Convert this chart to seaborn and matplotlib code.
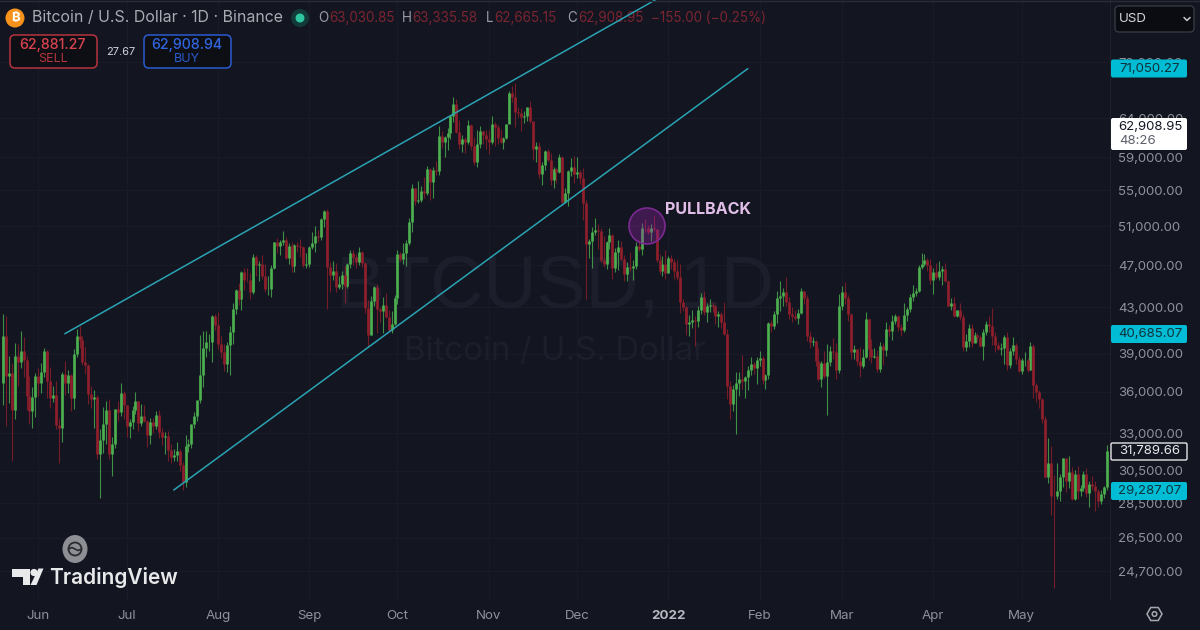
import numpy as np
import pandas as pd
import seaborn as sns
import matplotlib
matplotlib.use("Agg")
import matplotlib.pyplot as plt
import matplotlib.dates as mdates
from matplotlib.patches import FancyBboxPatch, Circle, Polygon, Ellipse, RegularPolygon
from matplotlib.transforms import Affine2D

# ---- data: (close, high, low) per day; first open given
first_open = 36690
may21 = [(40526,42451,35000),(37252,42200,33488),(37449,38829,35200),(34655,38270,31111),(38796,39920,34031),(38324,39791,36419),(39241,40900,37837),(38529,40411,37134),(35663,38856,34684),(34605,37234,33632),(35641,36400,33379),(37253,37499,34153)]
jun21 = [(36693,37894,35666),(37568,38225,35920),(39246,39476,37170),(36829,39289,35555),(35513,37925,34800),(35796,36480,35258),(33552,36800,33300),(33380,34068,31000),(37389,37534,32396),(36675,38400,35782),(37331,37680,35936),(35546,37400,34600),(39020,39380,34757),(40516,41064,38730),(40144,41330,39506),(38349,40527,38116),(38092,39559,37365),(35820,38200,35129),(35483,36457,34833),(35600,36137,33336),(31608,35750,31251),(32509,33298,28805),(33678,34881,31683),(34663,35298,32286),(31594,35500,31275),(32283,32730,30151),(34700,34749,32000),(34494,35297,33862),(35911,36675,34231),(35045,36100,34017)]
jul21 = [(33504,35036,32711),(33786,33977,32699),(34669,34945,33316),(35287,35967,34357),(33690,35293,33125),(34220,35118,33532),(33862,35056,33770),(32875,33929,32077),(33815,34100,32261),(33502,34100,33004),(34259,34600,33333),(33086,34678,32666),(32729,33340,32200),(32820,33114,31600),(31880,33185,31133),(31383,32249,31020),(31520,31949,31100),(31778,32435,31100),(30839,31899,30500),(29790,31063,29278),(32144,32858,29482),(32287,32591,31708),(33634,33650,32000),(34258,34500,33401),(35381,35398,33851),(37276,40550,35205),(39473,40900,36383),(40015,40925,38772),(40016,40640,39200),(42207,42316,38313),(41461,42448,41000)]
aug21 = [(39845,42599,39422),(39147,40480,38690),(38207,39780,37642),(39723,39969,37508),(40862,41350,37332),(42836,43392,39853),(44614,44700,42450),(43800,45310,43261),(46285,46454,42779),(45594,46700,44589),(45555,46743,45341),(44428,46218,43770),(47834,48144,44217),(47024,48000,45971),(47102,47372,45500),(45973,48053,45660),(44695,47160,44376),(44715,45970,44169),(46760,47033,43927),(49327,49382,46622),(48905,49757,48263),(49321,49500,48000),(49546,50500,49029),(47706,49875,47600),(48960,49284,47136),(46942,49355,46300),(49058,49178,46364),(48902,49310,48300),(48806,49632,47762),(46991,48906,46853),(47110,48246,46700)]
sep21 = [(48810,48888,46853),(49246,50340,48584),(49999,51000,48316),(49915,50558,49370),(51756,51900,49500),(52663,52780,50969),(46863,52920,42843),(46048,47340,44412),(46395,47399,45513),(44842,47250,44412),(45144,45980,44722),(46059,46460,44742),(44963,46880,43370),(47092,47250,44750),(48176,48500,46682),(47783,48488,47000),(47267,48150,46699),(48278,48825,47050),(47260,48372,46829),(42961,47337,42500),(40587,43639,39600),(43578,44000,40565),(44895,45000,43092),(42839,45200,40750),(42716,42998,41675),(43208,43937,40750),(42170,44350,42098),(41026,42787,40888),(41524,42690,40753),(43824,44132,41410)]
oct21 = [(48141,48495,43283),(47634,48336,47430),(48200,49228,47120),(49224,49536,46891),(51471,51886,49020),(55315,55750,50382),(53785,55332,53357),(53951,56100,53617),(54949,55489,53661),(54659,56561,54080),(57471,57839,54415),(56005,57680,53879),(57367,57777,54167),(57347,58532,56818),(61672,62933,56850),(60875,62379,60150),(61528,61720,58963),(62009,62695,59844),(64280,64486,61322),(66001,67000,63481),(62193,66639,62000),(60688,63732,60000),(61286,61747,59668),(60852,61490,59522),(63078,63710,60650),(60328,63293,59817),(58413,61496,58000),(60575,62499,57820),(62253,62980,60174),(61859,62359,60673),(61299,62405,59945)]
nov21 = [(60911,62437,59405),(63219,64270,60624),(62896,63500,60382),(61395,63086,60677),(60937,62600,60721),(61470,61560,60050),(63273,63286,61322),(67525,67789,63400),(66947,68524,66222),(64882,69000,62822),(64774,65579,64180),(64122,65460,62333),(64380,65000,63360),(65519,65550,63576),(63606,66401,63400),(60058,63500,58574),(60344,60840,58373),(56891,60948,56474),(58052,58351,55600),(59707,59845,57353),(58622,60029,58486),(56247,59474,55610),(57541,57800,55317),(57138,57700,55837),(58960,59398,57000),(53726,59150,53500),(54721,55280,53610),(57274,57445,53256),(57776,58865,56666),(56950,59176,55875)]
dec21 = [(57184,59053,56458),(56480,57375,55777),(53601,57600,51680),(49152,53869,43800),(49396,49699,47727),(50441,50891,46751),(50588,51936,50039),(50471,51200,48600),(47545,50797,47320),(47140,50015,46852),(49389,49485,46630),(50053,50777,48633),(46702,50189,45672),(48343,48700,46290),(48864,49500,46547),(47632,49437,47511),(46131,48000,45456),(46834,47360,45500),(46681,48300,46406),(46914,47537,45558),(48889,49328,46630),(48589,49576,48421),(50838,51375,48047),(50820,51810,50384),(50400,51156,50171),(50775,51280,49412),(50701,52088,50449),(47543,50704,47313),(46464,48139,46096),(47120,47900,45900),(46216,48548,45678)]
jan22 = [(47722,47954,46208),(47286,47990,46654),(46446,47570,45696),(45832,47505,45516),(43451,47070,42500),(43082,43748,42645),(41566,43145,40610),(41679,42300,40501),(41864,42786,41200),(41822,42248,39650),(42735,43100,41268),(43920,44322,42450),(42591,44500,42311),(43099,43448,41725),(43177,43800,42563),(43113,43475,42581),(42250,43200,41540),(42375,42691,41250),(41744,42559,41138),(40680,43505,40553),(36445,41100,35440),(35071,36835,34008),(36244,36499,34601),(36660,37550,32917),(36958,37545,35701),(36809,38919,36234),(37160,37234,35507),(37716,38000,36155),(38166,38720,37268),(37881,38359,37351),(38466,38744,36632)]
feb22 = [(38690,39265,38000),(36896,38855,36586),(37311,37387,36250),(41574,41688,37026),(41382,41913,40843),(42380,42656,41116),(43839,44500,41645),(44042,45492,42666),(44372,44798,43117),(43495,45821,43174),(42373,43920,41938),(42217,43079,41688),(42053,42760,41870),(42535,42876,41570),(44544,44751,42427),(43873,44549,43307),(40515,44164,40073),(39974,40959,39450),(40079,40444,39639),(38386,40125,38000),(37008,39494,36800),(38230,38429,36350),(37250,39249,37036),(38327,39843,34322),(39219,39683,38014),(39116,40300,38600),(37699,39886,37000),(43160,44225,37450)]
mar22 = [(44421,44949,42809),(43892,45400,43334),(42454,44101,41832),(39148,42500,38550),(39398,39693,38588),(38420,39430,38088),(37988,39547,37155),(38730,39362,37867),(41941,42594,38656),(39422,42039,38539),(38730,40236,38223),(38807,39486,38660),(37777,39310,37578),(39671,39947,37555),(39281,39887,38098),(41114,41718,38828),(40917,41478,40500),(41757,42325,40135),(42201,42400,41499),(41262,42300,40911),(41002,41544,40468),(42364,43361,40875),(42882,43025,41751),(43991,44220,42560),(44313,45094,43579),(44511,44792,44072),(46820,46999,44421),(47128,48190,46663),(47465,48096,46950),(47062,47700,46445),(45510,47600,45200)]
apr22 = [(46283,46720,44200),(45811,47213,45620),(46407,47444,45530),(46580,46890,45118),(45497,47200,45353),(43170,45507,43121),(43444,43900,42727),(42252,43970,42107),(42753,42800,42125),(42158,43410,41868),(39530,42414,39200),(40074,40699,39254),(41147,41561,39588),(39942,41500,39551),(40551,40870,39991),(40378,40709,40020),(39678,40595,39546),(40801,41134,38536),(41493,41760,40571),(41358,42199,40820),(40480,42976,39751),(39709,40795,39177),(39441,39980,39285),(39450,39940,38929),(40426,40616,38200),(38112,40797,37702),(39235,39474,37881),(39742,40372,38881),(38596,39925,38175),(37630,38795,37578)]
may22 = [(38468,38675,37386),(38525,39167,38052),(37728,38651,37517),(39690,40023,37670),(36552,39845,35571),(36014,36648,35258),(35468,36130,34785),(34038,35510,33713),(30074,34245,30033),(30997,32658,29730),(28936,32162,27785),(28900,30243,23850),(29253,30998,28751),(30076,30308,28630),(31305,31308,29480),(29862,31305,29192),(30425,31470,29420),(28716,30725,28654),(30296,30545,28670),(29198,30777,28730),(29433,29600,28947),(30293,30487,29227),(29110,30670,28852),(29655,29841,28282),(29542,30187,29300),(29201,29868,28019),(28629,29382,28282),(29031,29266,28450),(29468,29550,28800),(31790,32222,29299)]

upper_channel_dates = ["2021-06-10", "2021-12-29"]
upper_channel_prices = [40685.07, 82510]
lower_channel_dates = ["2021-07-17", "2022-01-28"]
lower_channel_prices = [29287.07, 71050.27]

price_ticks = [72000,64000,59000,55000,51000,47000,43000,39000,36000,33000,30500,28500,26500,24700]
month_dates = ["2021-06-01","2021-07-01","2021-08-01","2021-09-01","2021-10-01","2021-11-01","2021-12-01","2022-01-01","2022-02-01","2022-03-01","2022-04-01","2022-05-01"]
month_labels = ["Jun","Jul","Aug","Sep","Oct","Nov","Dec","2022","Feb","Mar","Apr","May"]

rows = may21+jun21+jul21+aug21+sep21+oct21+nov21+dec21+jan22+feb22+mar22+apr22+may22
df = pd.DataFrame(rows, columns=["close","high","low"])
df["date"] = pd.date_range("2021-05-20", periods=len(df), freq="D")
df["open"] = df["close"].shift(1).fillna(first_open)
df["dir"] = np.where(df["close"] >= df["open"], "up", "down")

BG = "#131520"
GREEN, RED = "#4caf50", "#8f1f2c"
W = 1200; H = 630

sns.set_theme(style="dark", rc={"axes.facecolor": BG, "figure.facecolor": BG, "axes.grid": False})
plt.rcParams["font.family"] = ["Inter", "Noto Sans", "Roboto", "DejaVu Sans"]

fig = plt.figure(figsize=(12, 6.3), dpi=100)
ax = fig.add_axes([0, 30/H, 1110/W, 600/H])
px = Affine2D().scale(1, -1).translate(0, H)   # reference picture pixels → display

ax.set_yscale("log")
ax.set_ylim(28500*np.exp((503-600)/475.5), 28500*np.exp(503/475.5))
d0 = mdates.date2num(pd.Timestamp("2021-05-20"))
ax.set_xlim(d0 - 3/2.944, d0 + (1110-3)/2.944)

# wicks and bodies as seaborn line marks
wicks = df.melt(id_vars=["date","dir"], value_vars=["low","high"], value_name="price")
bodies = df.melt(id_vars=["date","dir"], value_vars=["open","close"], value_name="price")
pal = {"up": GREEN, "down": RED}
sns.lineplot(data=wicks, x="date", y="price", hue="dir", units="date", estimator=None, palette=pal,
             lw=0.8, alpha=0.8, legend=False, ax=ax, solid_capstyle="butt", zorder=3)
sns.lineplot(data=bodies, x="date", y="price", hue="dir", units="date", estimator=None, palette=pal,
             lw=1.95, legend=False, ax=ax, solid_capstyle="butt", zorder=4)

# channels
for ds, ps in ((upper_channel_dates, upper_channel_prices), (lower_channel_dates, lower_channel_prices)):
    sns.lineplot(x=pd.to_datetime(ds), y=ps, color="#2aa3b3", lw=1.1, ax=ax, zorder=5, estimator=None)

# axes
ax.yaxis.tick_right()
ax.set_yticks(price_ticks)
ax.set_yticklabels([f"{p:,.2f}" for p in price_ticks], fontsize=9.5, color="#8f929a")
ax.yaxis.set_minor_locator(matplotlib.ticker.NullLocator())
ax.set_xticks(pd.to_datetime(month_dates))
ax.set_xticklabels(month_labels, fontsize=9.6, color="#8f929a")
ax.get_xticklabels()[7].set_fontweight("bold")
ax.get_xticklabels()[7].set_color("#b8bac2")
ax.tick_params(axis="both", which="both", length=0)
ax.tick_params(axis="y", pad=5.8)
ax.tick_params(axis="x", pad=7)
ax.set_xlabel(""); ax.set_ylabel("")
ax.grid(True, color="#191c28", lw=0.8)
ax.set_axisbelow(True)
for s in ax.spines.values():
    s.set_visible(False)
ax.spines["right"].set_visible(True); ax.spines["right"].set_color("#1e212d"); ax.spines["right"].set_linewidth(0.8)

def T(x, y, s, **kw):
    kw.setdefault("va", "center")
    kw.setdefault("zorder", 10)
    return ax.text(x, y, s, transform=px, clip_on=False, **kw)

def box(x0, y0, x1, y1, fc, ec="none", r=3, lw=1, z=9):
    p = FancyBboxPatch((x0+r, y0+r), x1-x0-2*r, y1-y0-2*r, boxstyle=f"round,pad={r}", fc=fc, ec=ec, lw=lw,
                       transform=px, clip_on=False, zorder=z)
    ax.add_patch(p)

# frame hairlines
ax.plot([0, 1200], [0.5, 0.5], color="#2a2d38", lw=1, transform=px, clip_on=False, zorder=8)
ax.plot([0, 1200], [629.5, 629.5], color="#0a0b10", lw=1, transform=px, clip_on=False, zorder=8)

# watermark
T(555, 288, "BTCUSD, 1D", fontsize=53, color="#1c1f2b", ha="center", zorder=1, family=["Liberation Sans"])
T(555, 351, "Bitcoin / U.S. Dollar", fontsize=23.8, color="#1c1f2b", ha="center", zorder=1)

# pullback
ax.add_patch(Circle((647, 226), 18, fc="#9c27b0", alpha=0.32, ec="none", transform=px, zorder=6))
ax.add_patch(Circle((647, 226), 18, fc="none", ec="#7b2a92", lw=1.2, transform=px, zorder=6))
T(665, 209, "PULLBACK", fontsize=11.6, fontweight="bold", color="#e1bee7")

# header
ax.add_patch(Circle((15, 18), 9.5, fc="#f7931a", ec="none", transform=px, clip_on=False, zorder=9))
T(15, 18, "₿", fontsize=9.5, color="white", ha="center", fontweight="bold")
T(32, 18, "Bitcoin / U.S. Dollar · 1D · Binance", fontsize=11.45, color="#a9abb3")
ax.add_patch(Circle((300, 18), 9, fc="#123a39", ec="none", transform=px, clip_on=False, zorder=9))
ax.add_patch(Circle((300, 18), 4.5, fc="#2fc5a0", ec="none", transform=px, clip_on=False, zorder=9))
dim = "#7a2531"
for x, letter, vx, val in ((318, "O", 329, "63,030.85"), (402, "H", 412, "63,335.58"), (486, "L", 494, "62,665.15"), (567, "C", 578, "62,908.95")):
    T(x, 18, letter, fontsize=9.7, color="#9a9ca4", zorder=4)
    T(vx, 18, val, fontsize=9.7, color=dim, zorder=4)
T(651, 18, "−155.00 (−0.25%)", fontsize=9.7, color=dim, zorder=4)

box(10, 35, 97, 68, "#0e0f14", "#b5343f", r=5, lw=1.1)
T(53, 45, "62,881.27", fontsize=10.2, fontweight="medium", color="#d9434f", ha="center")
T(53, 59, "SELL", fontsize=9, color="#b5343f", ha="center")
T(121, 52, "27.67", fontsize=7.9, color="#d1d4dc", ha="center")
box(144, 35, 231, 68, "#0e0f14", "#2a5bd0", r=5, lw=1.1)
T(187, 45, "62,908.94", fontsize=10.2, fontweight="medium", color="#2f66e0", ha="center")
T(187, 59, "BUY", fontsize=9, color="#2a5bd0", ha="center")

# USD dropdown
box(1115, 6, 1194, 32, "#0b0c11", "#3a3d47", r=4, lw=0.9)
T(1119, 19, "USD", fontsize=9.6, color="#d1d4dc")
ax.plot([1184, 1187, 1190], [17.5, 20.5, 17.5], color="#c8cad0", lw=1.1, transform=px, clip_on=False, zorder=10)

# price labels
CY = "#00bcd4"
box(1111, 59.5, 1187, 77.5, CY, r=2)
T(1150, 68.5, "71,050.27", fontsize=9.5, color="#10323c", ha="center")
box(1111, 118, 1187, 150, "white", r=2)
T(1150, 126.5, "62,908.95", fontsize=9.5, color="#131722", ha="center")
T(1119, 141, "48:26", fontsize=9.5, color="#5d606b")
box(1111, 325, 1187, 343, CY, r=2)
T(1150, 334, "40,685.07", fontsize=9.5, color="#10323c", ha="center")
box(1111, 443, 1187, 460, "#131520", "#e4e5e8", r=1.5, lw=1)
T(1150, 451.5, "31,789.66", fontsize=9.5, color="#e8e9ec", ha="center")
box(1111, 482, 1187, 500, CY, r=2)
T(1150, 491, "29,287.07", fontsize=9.5, color="#10323c", ha="center")

# logo
ax.add_patch(Ellipse((75, 549), 25, 28, fc="#8d8f95", ec="none", transform=px, clip_on=False, zorder=9))
ax.add_patch(Circle((75, 549), 6.5, fc="none", ec="#2a2b31", lw=1.3, transform=px, clip_on=False, zorder=10))
ax.plot([68.5, 72, 78, 81.5], [549, 547.5, 550.5, 549], color="#2a2b31", lw=1.2, transform=px, clip_on=False, zorder=10)
logo = "#e8e9ea"
ax.add_patch(Polygon([(12, 568.5), (29.5, 568.5), (29.5, 585), (22.5, 585), (22.5, 577), (12, 577)], fc=logo, ec="none", transform=px, clip_on=False, zorder=10))
ax.add_patch(Circle((34, 572.5), 3.6, fc=logo, ec="none", transform=px, clip_on=False, zorder=10))
ax.add_patch(Polygon([(38.5, 568.5), (43.5, 568.5), (36.5, 585), (30.5, 585)], fc=logo, ec="none", transform=px, clip_on=False, zorder=10))
T(49, 578, "TradingView", fontsize=15, fontweight="semibold", color=logo)

# gear
ax.add_patch(RegularPolygon((1154.5, 614), 6, radius=7.5, orientation=np.pi/6, fc="none", ec="#a6a8b0", lw=1.1, transform=px, clip_on=False, zorder=10))
ax.add_patch(Circle((1154.5, 614), 2.3, fc="none", ec="#a6a8b0", lw=1.1, transform=px, clip_on=False, zorder=10))

fig.savefig("out.png", dpi=100, facecolor=BG)
